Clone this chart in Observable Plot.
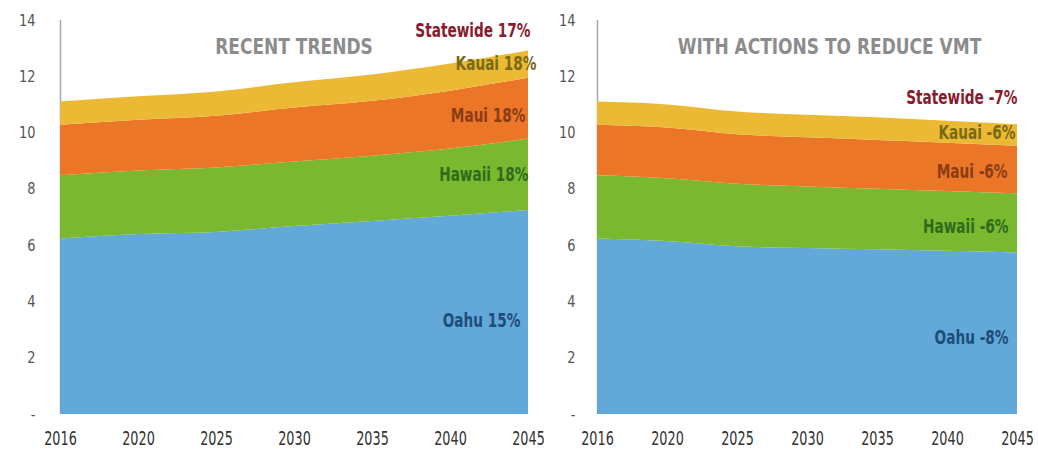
<!DOCTYPE html>
<html>
<head>
<meta charset="utf-8">
<script src="https://cdn.jsdelivr.net/npm/d3@7"></script>
<script src="https://cdn.jsdelivr.net/npm/@observablehq/plot@0.6"></script>
<style>
  html, body { margin: 0; padding: 0; background: #fff; }
  #wrap { display: flex; flex-direction: row; width: 1038px; height: 449px; position: relative; }
  #wrap svg { overflow: visible; }
</style>
</head>
<body>
<div id="wrap"></div>
<script>
const years = ["2016", "2020", "2025", "2030", "2035", "2040", "2045"];
const regions = ["Oahu", "Hawaii", "Maui", "Kauai"];
const yTicks = [0, 2, 4, 6, 8, 10, 12, 14];

// Recent trends
const trendOahu   = [6.24, 6.40, 6.47, 6.68, 6.86, 7.04, 7.25];
const trendHawaii = [2.24, 2.25, 2.29, 2.29, 2.32, 2.39, 2.54];
const trendMaui   = [1.80, 1.81, 1.84, 1.92, 1.95, 2.06, 2.16];
const trendKauai  = [0.82, 0.83, 0.86, 0.90, 0.93, 0.96, 0.97];

// With actions to reduce VMT
const actOahu   = [6.24, 6.15, 5.96, 5.90, 5.85, 5.80, 5.74];
const actHawaii = [2.24, 2.23, 2.22, 2.18, 2.15, 2.12, 2.10];
const actMaui   = [1.80, 1.80, 1.76, 1.75, 1.74, 1.72, 1.69];
const actKauai  = [0.82, 0.82, 0.81, 0.80, 0.80, 0.78, 0.77];

const trendLabels = ["Statewide 17%", "Kauai 18%", "Maui 18%", "Hawaii 18%", "Oahu 15%"];
const actLabels   = ["Statewide -7%", "Kauai -6%", "Maui -6%", "Hawaii -6%", "Oahu -8%"];
const titles = ["RECENT TRENDS", "WITH ACTIONS TO REDUCE VMT"];

const fillColors = {Oahu: "#62a8d8", Hawaii: "#79b82f", Maui: "#ec7628", Kauai: "#ecb935"};
const labelColors = {Statewide: "#8a1a2d", Kauai: "#7a6a12", Maui: "#8a3c14", Hawaii: "#2f6b1c", Oahu: "#1d4e7a"};

const FONT = "'DejaVu Sans Condensed', 'DejaVu Sans', sans-serif";

// horizontal squeeze per text class, to imitate the condensed typeface
const squeeze = {lbl: 0.8, ttl: 0.86, xax: 0.75, yax: 0.9};

function table(series) {
  const rows = [];
  regions.forEach((r, k) => {
    series[k].forEach((v, i) => rows.push({year: years[i], region: r, value: v}));
  });
  return rows;
}

function condense(svg) {
  for (const [cls, s] of Object.entries(squeeze)) {
    svg.querySelectorAll(`g.${cls} text`).forEach(t => {
      const xa = t.getAttribute("x");
      if (xa != null && /^-?[\d.]+$/.test(xa.trim())) t.setAttribute("x", (+xa) / s);
      const tr = t.getAttribute("transform") || "";
      t.setAttribute("transform", `${tr} scale(${s},1)`.trim());
    });
  }
}

function panel({series, labels, title, width, marginRight, titleDx, labelOffsets}) {
  const data = table(series);
  const last = years.length - 1;
  let cum = 0;
  const mids = {};
  regions.forEach((r, k) => {
    const v = series[k][last];
    mids[r] = cum + v / 2;
    cum += v;
  });
  mids.Statewide = cum;
  const labelMarks = labels.map((t) => {
    const key = t.split(" ")[0];
    const off = labelOffsets[key];
    return Plot.text([t], {
      x: () => years[last],
      y: () => mids[key],
      text: d => d,
      textAnchor: "end",
      dx: off[0],
      dy: off[1],
      fill: labelColors[key],
      fontSize: 19,
      fontWeight: "bold",
      fontFamily: FONT,
      className: "lbl"
    });
  });
  const svg = Plot.plot({
    width,
    height: 449,
    marginLeft: 57,
    marginRight,
    marginTop: 20,
    marginBottom: 35,
    style: {fontFamily: FONT, background: "none", overflow: "visible"},
    x: {type: "point", domain: years, padding: 0, label: null},
    y: {domain: [0, 14], label: null},
    marks: [
      Plot.ruleX([years[0]], {y1: 0, y2: 14, stroke: "#a8a8a8", strokeWidth: 1.5}),
      Plot.areaY(data, {
        x: "year", y: "value", z: "region",
        fill: d => fillColors[d.region],
        order: regions,
        curve: "monotone-x"
      }),
      Plot.axisY(yTicks, {
        tickSize: 0, tickPadding: 22,
        tickFormat: d => d === 0 ? "-" : String(d),
        fontSize: 16, fill: "#555", label: null, className: "yax"
      }),
      Plot.axisX(years, {
        tickSize: 0, tickPadding: 17,
        fontSize: 19, fill: "#333", label: null, className: "xax"
      }),
      Plot.text([title], {
        frameAnchor: "top", dy: 18, dx: titleDx,
        text: d => d,
        fill: "#8c8c8c", fontSize: 22, fontWeight: "bold", fontFamily: FONT,
        className: "ttl"
      }),
      ...labelMarks
    ]
  });
  condense(svg);
  return svg;
}

const wrap = document.getElementById("wrap");
wrap.appendChild(panel({
  series: [trendOahu, trendHawaii, trendMaui, trendKauai],
  labels: trendLabels,
  title: titles[0],
  width: 540,
  marginRight: 10,
  titleDx: 0,
  labelOffsets: {Statewide: [2, -20], Kauai: [8, -1], Maui: [-3, 7], Hawaii: [0, 0], Oahu: [-8, 8]}
}));
wrap.appendChild(panel({
  series: [actOahu, actHawaii, actMaui, actKauai],
  labels: actLabels,
  title: titles[1],
  width: 498,
  marginRight: 21,
  titleDx: 22,
  labelOffsets: {Statewide: [0, -27], Kauai: [-2, -3], Maui: [-10, 2], Hawaii: [-9, 3], Oahu: [-9, 4]}
}));
</script>
</body>
</html>
